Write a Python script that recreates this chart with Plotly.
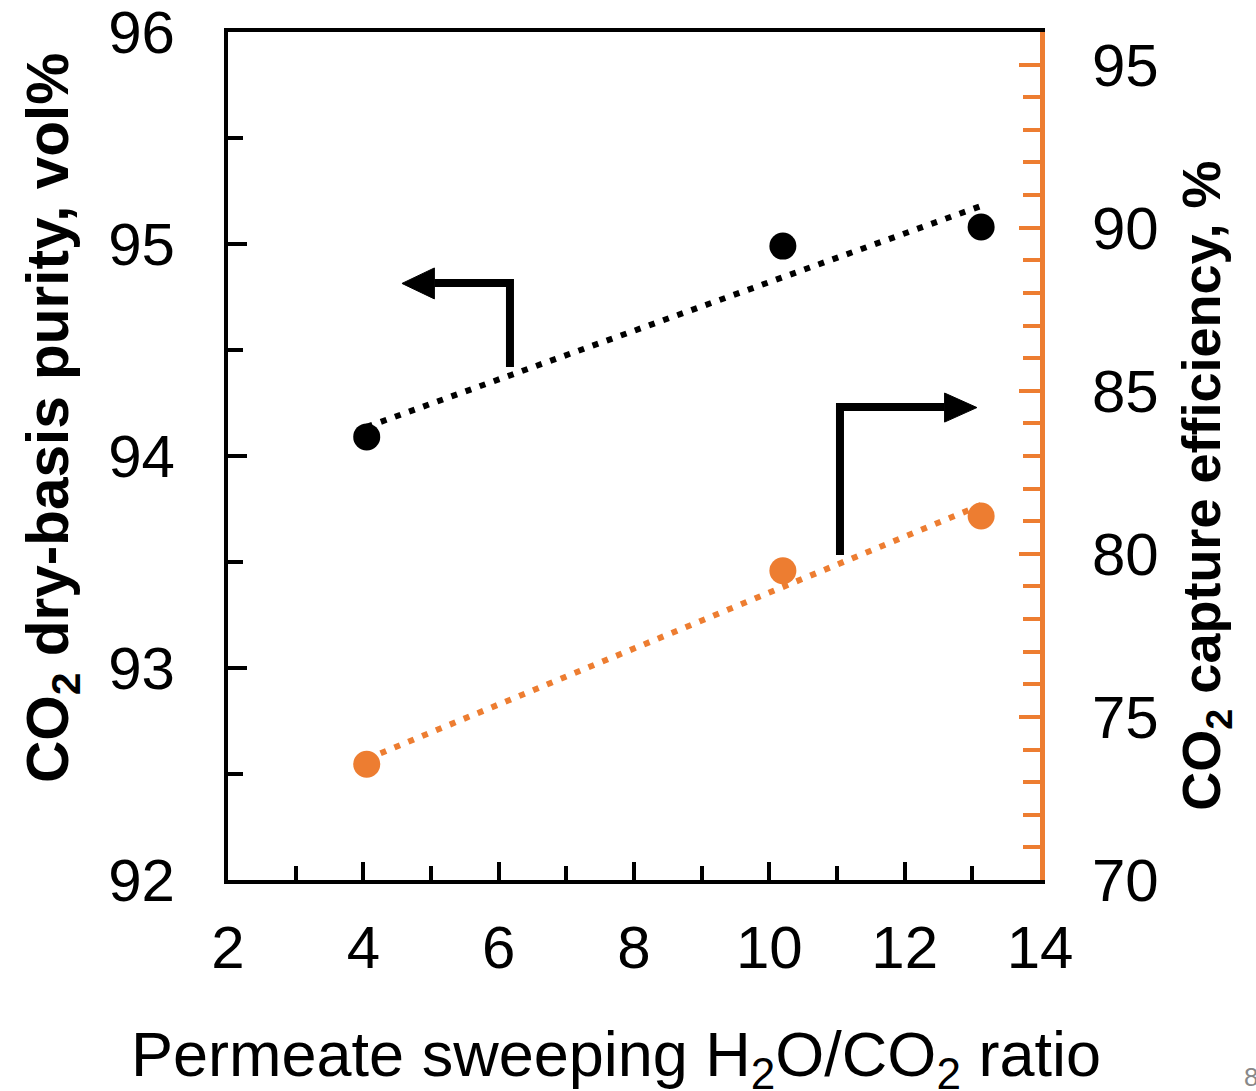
import numpy as np
import plotly.graph_objects as go

# ---- data ----
sweep_ratio = [4.05, 10.2, 13.13]          # H2O/CO2 ratio
purity = [94.09, 94.99, 95.08]             # CO2 dry-basis purity, vol%
capture_eff = [73.55, 79.48, 81.16]        # CO2 capture efficiency, %

x_ticks = [2, 4, 6, 8, 10, 12, 14]
y_left_ticks = [92, 93, 94, 95, 96]
y_right_ticks = [70, 75, 80, 85, 90, 95]

BLACK = "#000000"
ORANGE = "#ED7D31"
FONT = "Liberation Sans, Arial, sans-serif"

# linear trendlines (least squares, like the spreadsheet trendline)
xs = np.array(sweep_ratio)
xfit = np.array([xs.min(), xs.max()])
p_pur = np.polyfit(xs, np.array(purity), 1)
p_cap = np.polyfit(xs, np.array(capture_eff), 1)

fig = go.Figure()
fig.add_trace(go.Scatter(x=xfit, y=np.polyval(p_pur, xfit), mode="lines",
                         line=dict(color=BLACK, width=6, dash="6px,9px"),
                         showlegend=False, hoverinfo="skip"))
fig.add_trace(go.Scatter(x=xfit, y=np.polyval(p_cap, xfit), mode="lines",
                         line=dict(color=ORANGE, width=6, dash="6px,9px"),
                         yaxis="y2", showlegend=False, hoverinfo="skip"))
fig.add_trace(go.Scatter(x=sweep_ratio, y=purity, mode="markers",
                         marker=dict(color=BLACK, size=27),
                         showlegend=False))
fig.add_trace(go.Scatter(x=sweep_ratio, y=capture_eff, mode="markers",
                         marker=dict(color=ORANGE, size=27),
                         yaxis="y2", showlegend=False))

# ---- pointer arrows (decorations, in left-axis data units) ----
def arrow_shapes(corner_x, y_start, y_corner, x_head_base, x_tip, head_top, head_bottom):
    yc = y_corner
    return [
        dict(type="path", xref="x", yref="y",
             path=f"M{corner_x},{y_start} L{corner_x},{yc} L{x_head_base},{yc}",
             line=dict(color=BLACK, width=8)),
        dict(type="path", xref="x", yref="y",
             path=f"M{x_head_base},{head_top} L{x_tip},{(head_top + head_bottom) / 2} L{x_head_base},{head_bottom} Z",
             fillcolor=BLACK, line=dict(color=BLACK, width=1)),
    ]

shapes = []
shapes += arrow_shapes(6.167, 94.42, 94.816, 5.05, 4.571, 94.887, 94.741)
shapes += arrow_shapes(11.044, 93.533, 94.231, 12.59, 13.068, 94.297, 94.160)

tickfont = dict(family=FONT, size=60, color=BLACK)

fig.update_layout(
    width=1256, height=1091,
    margin=dict(l=228, r=216, t=32, b=211, autoexpand=False),
    paper_bgcolor="white", plot_bgcolor="white",
    font=dict(family=FONT, color=BLACK),
    showlegend=False,
    shapes=shapes,
    xaxis=dict(range=[2, 14], tickmode="array", tickvals=x_ticks,
               ticks="inside", ticklen=18, tickwidth=4, tickcolor=BLACK,
               showline=True, linewidth=4, linecolor=BLACK, mirror=True,
               showgrid=False, zeroline=False, tickfont=tickfont,
               ticklabelstandoff=12, ticklabeloverflow="allow", automargin=False,
               minor=dict(tick0=2, dtick=1, ticks="inside", ticklen=14,
                          tickwidth=4, tickcolor=BLACK, showgrid=False)),
    yaxis=dict(range=[92, 96], tickmode="array", tickvals=y_left_ticks,
               ticks="inside", ticklen=19, tickwidth=4, tickcolor=BLACK,
               showline=True, linewidth=4, linecolor=BLACK,
               showgrid=False, zeroline=False, tickfont=tickfont,
               ticklabelstandoff=37, ticklabeloverflow="allow", automargin=False,
               minor=dict(tick0=92, dtick=0.5, ticks="inside", ticklen=15,
                          tickwidth=4, tickcolor=BLACK, showgrid=False)),
    yaxis2=dict(range=[70, 96], overlaying="y", side="right",
                tickmode="array", tickvals=y_right_ticks,
                ticks="inside", ticklen=21, tickwidth=4, tickcolor=ORANGE,
                showline=True, linewidth=5, linecolor=ORANGE,
                showgrid=False, zeroline=False, tickfont=tickfont,
                ticklabelstandoff=35, ticklabeloverflow="allow", automargin=False,
                minor=dict(tick0=70, dtick=1, ticks="inside", ticklen=17,
                           tickwidth=4, tickcolor=ORANGE, showgrid=False)),
    annotations=[
        dict(text="CO<sub>2</sub> dry-basis purity, vol%", xref="paper", yref="paper",
             x=-0.2167, y=0.5448, xanchor="center", yanchor="middle",
             textangle=-90, showarrow=False,
             font=dict(family=FONT, size=58.5, color=BLACK, weight="bold")),
        dict(text="CO<sub>2</sub> capture efficiency, %", xref="paper", yref="paper",
             x=1.2032, y=0.465, xanchor="center", yanchor="middle",
             textangle=-90, showarrow=False,
             font=dict(family=FONT, size=54, color=BLACK, weight="bold")),
        dict(text="Permeate sweeping H<sub>2</sub>O/CO<sub>2</sub> ratio",
             xref="paper", yref="paper", x=0.4778, y=-0.2105,
             xanchor="center", yanchor="middle", showarrow=False,
             font=dict(family=FONT, size=63, color=BLACK)),
        dict(text="8", xref="paper", yref="paper", x=1.2488, y=-0.232,
             xanchor="left", yanchor="middle", showarrow=False,
             font=dict(family=FONT, size=26, color="#888888")),
    ],
)

fig.write_html("out.html", config={"displayModeBar": False},
               post_script="document.body.style.margin='0';document.body.style.overflow='hidden';")
